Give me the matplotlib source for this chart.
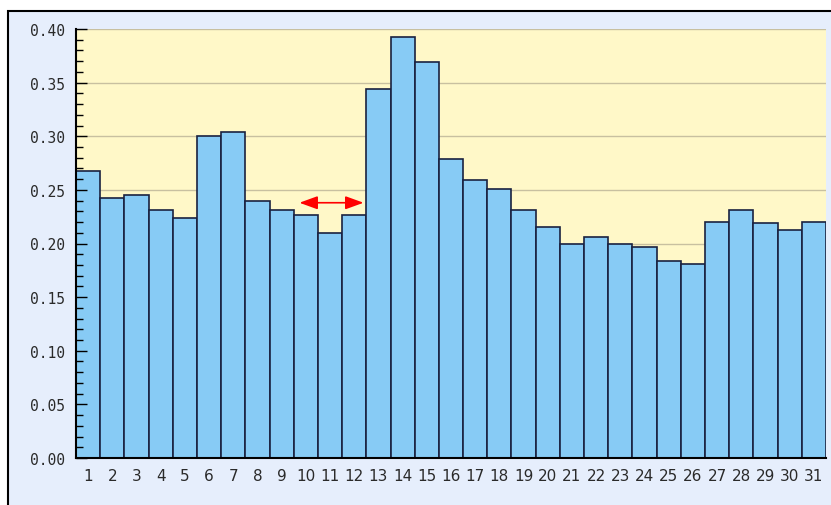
import matplotlib
matplotlib.use("Agg")
import matplotlib.pyplot as plt
from matplotlib.patches import Rectangle, FancyArrowPatch
from matplotlib.ticker import MultipleLocator
import numpy as np

days = list(range(1, 32))
values = [0.268, 0.242, 0.245, 0.231, 0.224, 0.300, 0.304, 0.240, 0.231, 0.227,
          0.210, 0.227, 0.344, 0.393, 0.369, 0.279, 0.259, 0.251, 0.231, 0.215,
          0.200, 0.206, 0.200, 0.197, 0.184, 0.181, 0.220, 0.231, 0.219, 0.213, 0.220]
y_ticks = [0.00, 0.05, 0.10, 0.15, 0.20, 0.25, 0.30, 0.35, 0.40]
arrow_x = [9.62, 12.5]
arrow_y = 0.238

W, H = 831, 506
fig = plt.figure(figsize=(W/100, H/100), dpi=100)
fig.patch.set_facecolor("white")
fig.patches.append(Rectangle((8/W, -0.05), 1.2, 1.05 - 12/H, transform=fig.transFigure,
                             facecolor="#e6eefc", edgecolor="black", linewidth=1.5, zorder=-10))

ax = fig.add_axes([76/W, 1 - 459/H, (826-76)/W, (459-30)/H])
ax.set_zorder(5)
ax.set_facecolor("#fff8c8")
for yv in y_ticks[1:]:
    ax.axhline(yv, color="#c8c0a0", linewidth=1.0, zorder=1)
ax.bar(days, values, width=1.0, color="#87cbf5", edgecolor="#1a2240", linewidth=1.2, zorder=2)
ax.set_axisbelow(False)
ax.set_xlim(0.5, 31.5)
ax.set_ylim(0, 0.40)
ax.yaxis.set_minor_locator(MultipleLocator(0.01))
ax.set_xticks(days)
ax.set_xticklabels([str(d) for d in days], fontsize=11, family="DejaVu Sans", color="#2a2a2a")
ax.set_yticks(y_ticks)
ax.set_yticklabels([f"{v:.2f}" for v in y_ticks], fontsize=10.5,
                   family="DejaVu Sans Mono", color="#2a2a2a")
ax.tick_params(axis="x", length=0, pad=7)
ax.tick_params(axis="y", which="major", direction="in", length=8, width=1, color="black", pad=8)
ax.tick_params(axis="y", which="minor", direction="in", length=5, width=1, color="black")
for s in ["top", "right"]:
    ax.spines[s].set_visible(False)
for s in ["left", "bottom"]:
    ax.spines[s].set_color("black")
    ax.spines[s].set_linewidth(1.5)
    ax.spines[s].set_zorder(5)

arr = FancyArrowPatch((arrow_x[0], arrow_y), (arrow_x[1], arrow_y),
                      arrowstyle="<|-|>,head_length=1.1,head_width=0.4",
                      mutation_scale=10, color="red", linewidth=1.2, zorder=6)
ax.add_patch(arr)

fig.savefig("out.png", dpi=100)
